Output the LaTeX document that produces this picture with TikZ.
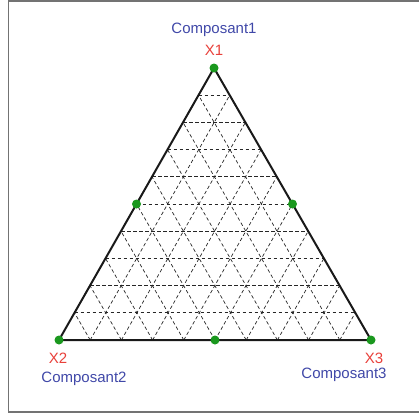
\documentclass[tikz,border=0pt]{standalone}
\usepackage{fontspec}
\setmainfont{Liberation Sans}
\usetikzlibrary{calc}
\definecolor{lblblue}{HTML}{4048A8}
\definecolor{lblred}{HTML}{E8403A}
\definecolor{dotgreen}{HTML}{1A981E}
\begin{document}
\begin{tikzpicture}[x=1pt,y=-1pt,
  side/.style={line width=2pt,black!90},
  gridline/.style={line width=0.7pt,dash pattern=on 3.5pt off 2.5pt,black!85},
  dot/.style={circle,fill=dotgreen,inner sep=0pt,minimum size=9pt},
  xlab/.style={text=lblred,font=\fontsize{15}{17}\selectfont,inner sep=0pt},
  clab/.style={text=lblblue,font=\fontsize{15}{17}\selectfont,inner sep=0pt}]
\useasboundingbox (0,0) rectangle (419,413);
\draw[line width=1.2pt,black!55] (420,1) -- (8.5,1) -- (8.5,412) -- (420,412);
\coordinate (A) at (214,68);
\coordinate (B) at (59,340);
\coordinate (C) at (371,340);
\foreach \i in {1,...,9}{
  \draw[gridline] ($(A)!\i/10!(B)$) -- ($(A)!\i/10!(C)$);
  \draw[gridline] ($(B)!\i/10!(C)$) -- ($(A)!\i/10!(C)$);
  \draw[gridline] ($(B)!\i/10!(C)$) -- ($(B)!\i/10!(A)$);
}
\draw[side] (A) -- (B) -- (C) -- cycle;
\node[dot] (dA) at (A) {};
\node[dot] (dB) at (B) {};
\node[dot] (dC) at (C) {};
\node[dot] (dAB) at ($(A)!0.5!(B)$) {};
\node[dot] (dAC) at ($(A)!0.5!(C)$) {};
\node[dot] (dBC) at ($(B)!0.5!(C)$) {};
\node[xlab] (x1) at (214,50) {X1};
\node[clab] (c1) at (214,30) {Composant1};
\node[xlab] (x2) at (58,358) {X2};
\node[clab] (c2) at (84,379) {Composant2};
\node[xlab] (x3) at (374,358) {X3};
\node[clab] (c3) at (344,375) {Composant3};
\end{tikzpicture}
\end{document}
